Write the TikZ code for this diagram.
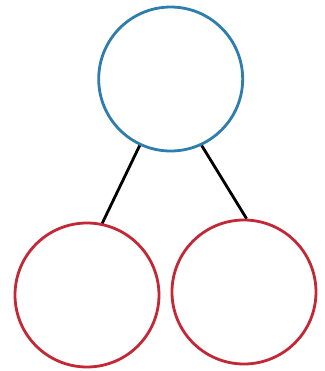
\documentclass[tikz,border=0pt]{standalone}
\usetikzlibrary{positioning}
\definecolor{topblue}{RGB}{45,125,175}
\definecolor{leafred}{RGB}{195,40,55}
\tikzset{ball/.style={circle,draw,line width=0.8pt,minimum size=1.44cm,inner sep=0pt}}

\begin{document}
\begin{tikzpicture}
		\useasboundingbox (0,0) rectangle (3.25,3.71);
		\node[ball,draw=topblue] (root) at (1.707,2.92) {};
		\node[ball,draw=leafred] (lt) at (0.87,0.76) {};
		\node[ball,draw=leafred] (rt) at (2.44,0.79) {};
		\draw[line width=0.8pt] (root.-115) -- (lt.78);
		\draw[line width=0.8pt] (root.-65) -- (rt.88);
	\end{tikzpicture}
\end{document}
